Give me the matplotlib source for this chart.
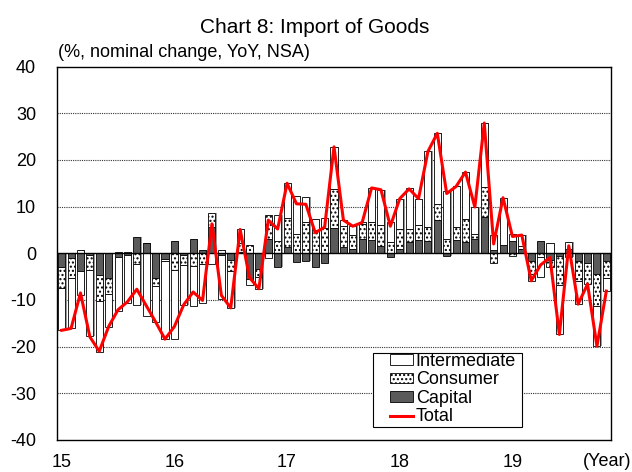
import numpy as np
import matplotlib.pyplot as plt
from matplotlib.patches import Rectangle

plt.rcParams['font.family'] = ['Liberation Sans', 'DejaVu Sans']
plt.rcParams['axes.unicode_minus'] = False
plt.rcParams['hatch.linewidth'] = 1.0

# monthly YoY contributions, Jan 2015 - Nov 2019
capital = [-2.9, -1.1, -3.8, -0.4, -4.6, -5.4, -0.9, -0.4, 3.5, 2.3,
           -5.3, -1.2, 2.7, -0.3, 3.0, 0.6, 5.6, -0.3, -1.5, 0.3,
           -5.6, -3.3, 3.1, -2.9, 1.4, -1.9, -1.6, -3.0, -2.0, 5.5,
           1.4, 1.0, 3.1, 2.8, 1.5, -0.9, 1.0, 2.4, 2.8, 2.6,
           7.2, -0.6, 2.8, 2.4, 3.1, 7.8, 0.6, 1.7, 2.7, 0.9,
           -1.6, 2.6, -1.5, -0.6, 0.9, -1.6, -2.0, -4.5, -1.6]
consumer = [-4.6, -4.3, 0.6, -3.2, -5.7, -3.4, 0.3, 0.3, -2.2, 0.0,
            -1.7, -0.5, -3.5, -2.2, -2.8, -2.4, 3.1, 0.6, -2.4, 1.8,
            1.7, -1.8, 5.0, 2.7, 6.2, 4.1, 6.8, 5.0, 5.4, 8.2,
            4.4, 3.0, 3.2, 3.9, 4.5, 2.4, 4.3, 2.9, 3.2, 3.0,
            3.4, 3.0, 2.8, 5.0, 1.1, 6.4, -2.0, 0.0, -0.6, 0.7,
            -2.9, -0.8, -1.5, -6.3, -0.9, -4.3, -4.6, -6.8, -3.6]
intermediate = [-8.9, -10.7, -5.1, -14.2, -10.8, -6.9, -11.5, -10.2, -8.8, -13.5,
                -7.8, -16.7, -14.9, -8.5, -8.5, -8.2, -2.2, -9.4, -7.8, 3.0,
                -1.3, -2.5, -1.0, 5.4, 7.4, 8.2, 5.3, 2.3, 2.1, 9.1,
                1.3, 1.8, 0.4, 7.3, 7.6, 4.3, 6.4, 8.6, 5.7, 16.3,
                15.1, 10.4, 8.8, 10.0, 5.7, 13.7, 3.4, 10.2, 1.4, 2.3,
                -1.4, -4.3, 2.1, -10.5, 1.6, -5.0, 0.0, -8.6, -2.9]
total = [-16.5, -16.1, -8.5, -17.9, -21.0, -15.7, -12.1, -10.4, -7.7, -11.2,
         -14.7, -18.4, -15.7, -11.0, -8.3, -10.1, 6.3, -9.0, -11.7, 5.1,
         -5.2, -7.6, 7.1, 5.2, 15.0, 10.6, 10.5, 4.4, 5.6, 22.8,
         7.1, 5.8, 6.6, 14.0, 13.6, 5.8, 11.7, 13.8, 11.7, 21.8,
         25.7, 12.8, 14.3, 17.4, 9.9, 27.9, 2.0, 11.9, 3.6, 3.9,
         -5.9, -2.5, -0.9, -17.4, 1.6, -10.9, -6.6, -19.9, -8.1]
year_labels = ['15', '16', '17', '18', '19']

n = len(total)
x = np.arange(n)
barw = 0.75

fig = plt.figure(figsize=(6.32, 4.72), dpi=100)
ax = fig.add_axes([0.0902, 0.0678, 0.8766, 0.7912])

parts = [np.array(capital), np.array(consumer), np.array(intermediate)]
pos_sum = sum(np.clip(p, 0, None) for p in parts)
neg_sum = sum(np.clip(p, None, 0) for p in parts)

# grey drop shadow behind each stack
ax.bar(x + 0.14, pos_sum - neg_sum, bottom=neg_sum, width=barw,
       color='#9a9a9a', linewidth=0, zorder=1)

styles = [('Capital', dict(facecolor='#5a5a5a', hatch=None)),
          ('Consumer', dict(facecolor='white', hatch='....')),
          ('Intermediate', dict(facecolor='white', hatch=None))]
pos_base = np.zeros(n)
neg_base = np.zeros(n)
handles = {}
for vals, (name, st) in zip(parts, styles):
    base = np.where(vals >= 0, pos_base, neg_base)
    bars = ax.bar(x, vals, bottom=base, width=barw, edgecolor='black',
                  linewidth=0.6, zorder=2, label=name, **st)
    handles[name] = bars
    pos_base += np.clip(vals, 0, None)
    neg_base += np.clip(vals, None, 0)

line, = ax.plot(x, total, color='#ff0000', linewidth=2.2, zorder=4, label='Total')

for g in [-30, -20, -10, 10, 20, 30]:
    ax.axhline(g, color='#333333', linestyle=(0, (1, 1)), linewidth=0.8, zorder=0)
ax.axhline(0, color='black', linewidth=1.0, zorder=3)

ax.set_xlim(-0.5, n - 0.5)
ax.set_ylim(-40, 40)
ax.set_yticks(range(-40, 41, 10))
ax.set_xticks(range(0, n, 12))
ax.set_xticklabels(year_labels)
ax.tick_params(axis='y', length=0, pad=15, labelsize=13)
ax.tick_params(axis='x', length=0, pad=10, labelsize=13)
for s in ax.spines.values():
    s.set_linewidth(1.0)

fig.text(0.498, 0.930, 'Chart 8: Import of Goods', ha='center', va='baseline', fontsize=15)
fig.text(58 / 632, 0.879, '(%, nominal change, YoY, NSA)', ha='left', va='baseline', fontsize=13)
fig.text(607 / 632, 1 - 462 / 472, '(Year)', ha='center', va='center', fontsize=13)

# legend box drawn separately so the entries can sit off its left edge
fig.patches.append(Rectangle((373 / 632, 1 - 426.5 / 472), 149 / 632, 74 / 472,
                             transform=fig.transFigure, facecolor='white',
                             edgecolor='black', linewidth=0.8, zorder=5))
leg = fig.legend([handles['Intermediate'], handles['Consumer'], handles['Capital'], line],
                 ['Intermediate', 'Consumer', 'Capital', 'Total'],
                 loc='upper left', bbox_to_anchor=(390 / 632, 1 - 353 / 472),
                 fontsize=13, frameon=False, borderpad=0, labelspacing=0.08,
                 handlelength=1.3, handleheight=0.5, handletextpad=0.12,
                 borderaxespad=0)
leg.set_zorder(6)

fig.savefig('out.png', dpi=100)
